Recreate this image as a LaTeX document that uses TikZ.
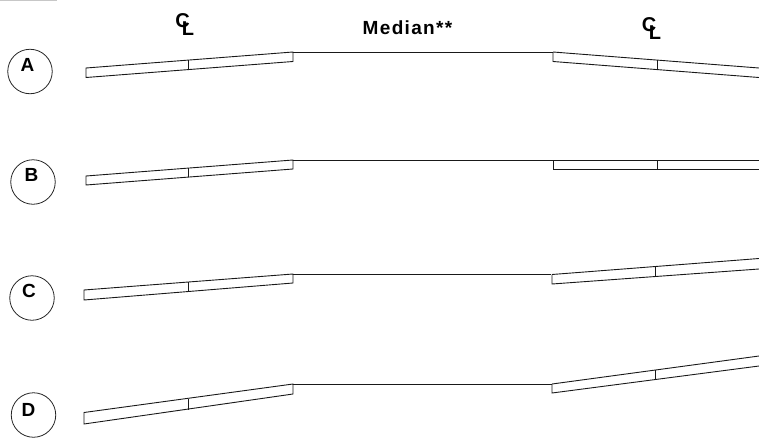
\documentclass[tikz,border=0pt]{standalone}
\usepackage{fontspec}
\setmainfont{Liberation Sans}
\newfontfamily\spacedfont[LetterSpace=7]{Liberation Sans}
\usepackage{tikz}
\usetikzlibrary{positioning}

\begin{document}
\begin{tikzpicture}[
    x=1pt, y=-1pt,
    deck/.style={draw=black!90, line width=0.9pt, line join=miter},
    station/.style={circle, draw=black!85, line width=0.8pt, minimum size=44.5pt, inner sep=0pt},
    lettering/.style={font=\bfseries\fontsize{19}{21}\selectfont, inner sep=0pt},
    centerline/.style={font=\bfseries\fontsize{20}{22}\selectfont, inner sep=0pt}
]
\useasboundingbox (0,0) rectangle (759,439);

% Corner strip
\fill [black!22] (0,0) rectangle (57,1);

% Section circles
\node [station] (circleA) at (30,71.5) {};
\node [station] (circleB) at (33,182) {};
\node [station] (circleC) at (32,298) {};
\node [station] (circleD) at (33.5,415) {};
\node [lettering] (labelA) at (27.5,65) {A};
\node [lettering] (labelB) at (31.5,174.5) {B};
\node [lettering] (labelC) at (29,290.5) {C};
\node [lettering] (labelD) at (28.5,410) {D};

% Headings
\node [centerline] (leftC) at (182.5,20.5) {C};
\node [centerline] (leftL) at (188,29) {L};
\node [centerline] (rightC) at (649,25) {C};
\node [centerline] (rightL) at (655,33) {L};
\node [lettering] (median) at (407.5,28) {\spacedfont Median**};

% Section A
\draw [deck] (86,68) -- (293,52) -- (293,61.5) -- (86,77.5) -- cycle;
\draw [deck] (188.5,60) -- (188.5,69.5);
\draw [deck] (293,52) -- (553,52);
\draw [deck] (553,52) -- (759,68);
\draw [deck] (553,52) -- (553,61.5) -- (759,77.5);
\draw [deck] (657,60) -- (657,69.5);

% Section B
\draw [deck] (86,176) -- (293,160) -- (293,169) -- (86,185) -- cycle;
\draw [deck] (188.5,168) -- (188.5,177);
\draw [deck] (293,160) -- (759,160);
\draw [deck] (553,160) -- (553,169.5) -- (759,169.5);
\draw [deck] (657,160) -- (657,169.5);

% Section C
\draw [deck] (84,290) -- (293,274) -- (293,283) -- (84,300) -- cycle;
\draw [deck] (188.5,282) -- (188.5,292);
\draw [deck] (293,274) -- (551,274);
\draw [deck] (552,274.5) -- (759,258.5);
\draw [deck] (552,274.5) -- (552,284) -- (759,269);
\draw [deck] (655,266.5) -- (655,277);

% Section D
\draw [deck] (84,412.5) -- (293,384) -- (293,394) -- (84,424) -- cycle;
\draw [deck] (188.5,399) -- (188.5,409.5);
\draw [deck] (293,384) -- (552,384);
\draw [deck] (552,384) -- (759,356);
\draw [deck] (552,384) -- (552,393) -- (759,366);
\draw [deck] (655,370) -- (655,380);

\end{tikzpicture}
\end{document}
